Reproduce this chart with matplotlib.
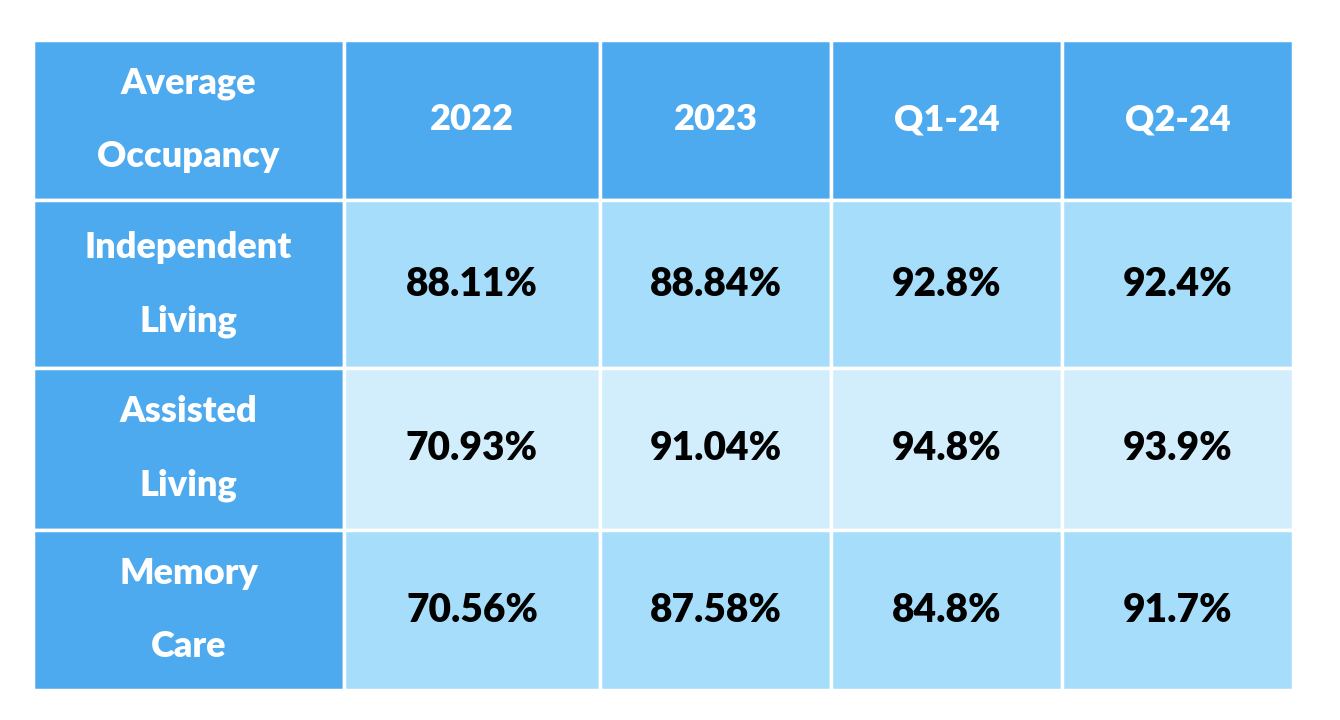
import matplotlib.pyplot as plt
from matplotlib.patches import Rectangle

corner = "Average\nOccupancy"
columns = ["2022", "2023", "Q1-24", "Q2-24"]
rows = ["Independent\nLiving", "Assisted\nLiving", "Memory\nCare"]
values = [
    ["88.11%", "88.84%", "92.8%", "92.4%"],
    ["70.93%", "91.04%", "94.8%", "93.9%"],
    ["70.56%", "87.58%", "84.8%", "91.7%"],
]

# layout in pixel units
col_edges = [33, 344, 600, 831, 1062, 1293]
row_edges = [40, 200, 368, 530, 690]
header_blue = "#4eaaee"
row_colors = ["#a6ddfa", "#d2eefc", "#a6ddfa"]

fig = plt.figure(figsize=(13.4, 7.2), dpi=100)
ax = fig.add_axes([0, 0, 1, 1])
ax.set_xlim(0, 1340)
ax.set_ylim(720, 0)
ax.set_axis_off()

def cell(c, r, color, text, txtcolor, size):
    x0, x1 = col_edges[c], col_edges[c + 1]
    y0, y1 = row_edges[r], row_edges[r + 1]
    ax.add_patch(Rectangle((x0, y0), x1 - x0, y1 - y0, facecolor=color,
                           edgecolor="white", linewidth=2.5))
    ax.text((x0 + x1) / 2, (y0 + y1) / 2, text, ha="center", va="center",
            color=txtcolor, fontsize=size, fontweight="black",
            family="Lato", linespacing=2.5)

cell(0, 0, header_blue, corner, "white", 26)
for j, name in enumerate(columns):
    cell(j + 1, 0, header_blue, name, "white", 26)
for i, name in enumerate(rows):
    cell(0, i + 1, header_blue, name, "white", 26)
    for j, v in enumerate(values[i]):
        cell(j + 1, i + 1, row_colors[i], v, "black", 28)

fig.savefig("out.png", dpi=100, facecolor="white")
